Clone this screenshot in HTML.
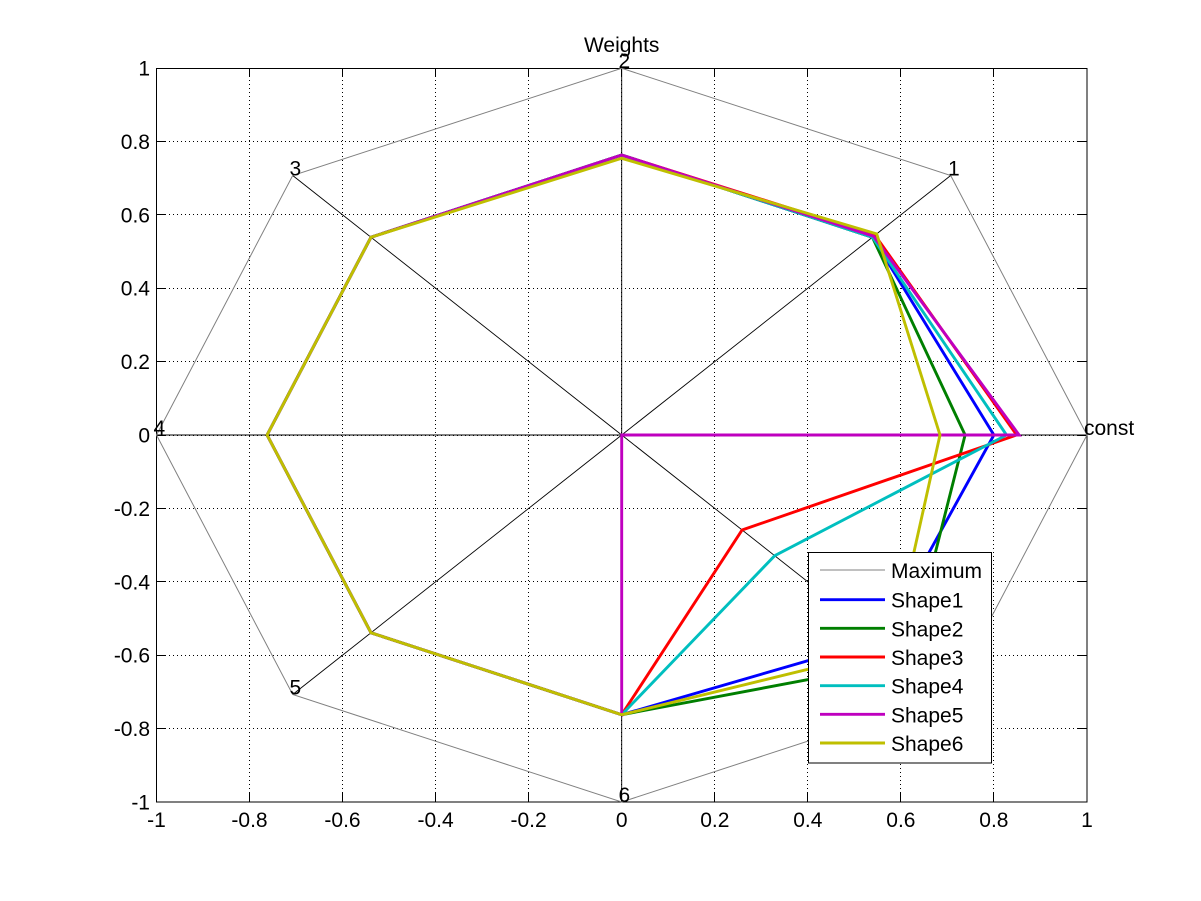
<!DOCTYPE html>
<html><head><meta charset="utf-8"><style>
html,body{margin:0;padding:0;background:#fff;}
svg{display:block;}
text{font-family:"Liberation Sans",Arial,sans-serif;font-size:21px;fill:#000;}
</style></head><body>
<svg width="1201" height="901" viewBox="0 0 1201 901" xmlns="http://www.w3.org/2000/svg">
<rect x="0" y="0" width="1201" height="901" fill="#fff"/>
<!-- grid -->
<g stroke="#000" stroke-width="1" stroke-dasharray="1,3" shape-rendering="crispEdges">
<line x1="249.5" y1="68" x2="249.5" y2="802"/>
<line x1="342.5" y1="68" x2="342.5" y2="802"/>
<line x1="435.5" y1="68" x2="435.5" y2="802"/>
<line x1="528.5" y1="68" x2="528.5" y2="802"/>
<line x1="621.5" y1="68" x2="621.5" y2="802"/>
<line x1="714.5" y1="68" x2="714.5" y2="802"/>
<line x1="807.5" y1="68" x2="807.5" y2="802"/>
<line x1="900.5" y1="68" x2="900.5" y2="802"/>
<line x1="993.5" y1="68" x2="993.5" y2="802"/>
<line x1="157" y1="141.5" x2="1087" y2="141.5"/>
<line x1="157" y1="214.5" x2="1087" y2="214.5"/>
<line x1="157" y1="288.5" x2="1087" y2="288.5"/>
<line x1="157" y1="361.5" x2="1087" y2="361.5"/>
<line x1="157" y1="435.5" x2="1087" y2="435.5"/>
<line x1="157" y1="508.5" x2="1087" y2="508.5"/>
<line x1="157" y1="581.5" x2="1087" y2="581.5"/>
<line x1="157" y1="655.5" x2="1087" y2="655.5"/>
<line x1="157" y1="728.5" x2="1087" y2="728.5"/>
</g>
<!-- axes box and ticks -->
<g stroke="#000" stroke-width="1" fill="none" shape-rendering="crispEdges">
<rect x="156.5" y="68.5" width="930.5" height="733.5"/>
<path d="M249.5 802v-9M342.5 802v-9M435.5 802v-9M528.5 802v-9M621.5 802v-9M714.5 802v-9M807.5 802v-9M900.5 802v-9M993.5 802v-9
M249.5 68v9M342.5 68v9M435.5 68v9M528.5 68v9M621.5 68v9M714.5 68v9M807.5 68v9M900.5 68v9M993.5 68v9
M157 141.5h9M157 214.5h9M157 288.5h9M157 361.5h9M157 435.5h9M157 508.5h9M157 581.5h9M157 655.5h9M157 728.5h9
M1087 141.5h-9M1087 214.5h-9M1087 288.5h-9M1087 361.5h-9M1087 435.5h-9M1087 508.5h-9M1087 581.5h-9M1087 655.5h-9M1087 728.5h-9"/>
</g>
<!-- tick labels -->
<g text-anchor="middle">
<text x="156.5" y="827">-1</text>
<text x="249.5" y="827">-0.8</text>
<text x="342.5" y="827">-0.6</text>
<text x="435.6" y="827">-0.4</text>
<text x="528.6" y="827">-0.2</text>
<text x="621.7" y="827">0</text>
<text x="714.8" y="827">0.2</text>
<text x="807.8" y="827">0.4</text>
<text x="900.9" y="827">0.6</text>
<text x="993.9" y="827">0.8</text>
<text x="1087" y="827">1</text>
</g>
<g text-anchor="end">
<text x="150" y="75.5">1</text>
<text x="150" y="149">0.8</text>
<text x="150" y="222.3">0.6</text>
<text x="150" y="295.7">0.4</text>
<text x="150" y="369.1">0.2</text>
<text x="150" y="442.5">0</text>
<text x="150" y="515.9">-0.2</text>
<text x="150" y="589.3">-0.4</text>
<text x="150" y="662.7">-0.6</text>
<text x="150" y="736.1">-0.8</text>
<text x="150" y="809.5">-1</text>
</g>
<text x="621.7" y="52" text-anchor="middle">Weights</text>
<!-- spokes -->
<g stroke="#000" stroke-width="0.9" fill="none">
<line x1="621.7" y1="435" x2="1087" y2="435"/>
<line x1="621.7" y1="435" x2="950.7" y2="175.5"/>
<line x1="621.7" y1="435" x2="621.7" y2="68.3"/>
<line x1="621.7" y1="435" x2="292.7" y2="175.5"/>
<line x1="621.7" y1="435" x2="156.5" y2="435"/>
<line x1="621.7" y1="435" x2="292.7" y2="694.5"/>
<line x1="621.7" y1="435" x2="621.7" y2="802"/>
<line x1="621.7" y1="435" x2="950.7" y2="694.5"/>
</g>
<!-- maximum -->
<polygon points="1087,435 950.7,175.5 621.7,68.3 292.7,175.5 156.5,435 292.7,694.5 621.7,802 950.7,694.5" fill="none" stroke="#808080" stroke-width="1"/>
<!-- shapes -->
<g fill="none" stroke-width="2.9" stroke-linejoin="miter">
<polygon stroke="#0000ff" points="993.9,435 872.4,237.2 621.7,155 371,237.2 267.1,435 371,632.8 621.7,714.7 881,639.5"/>
<polygon stroke="#007f00" points="965.1,435 872.4,237.2 621.7,155 371,237.2 267.1,435 371,632.8 621.7,714.7 908,660.8"/>
<polygon stroke="#ff0000" points="1016.7,435 875,235.2 621.7,155 371,237.2 267.1,435 371,632.8 621.7,714.7 742.1,530"/>
<polygon stroke="#00bfbf" points="1006.5,435 872.4,237.2 621.7,155 371,237.2 267.1,435 371,632.8 621.7,714.7 774.7,555.7"/>
<polygon stroke="#bf00bf" points="1019.1,435 873.5,236.2 621.7,155 371,237.2 267.1,435 371,632.8 621.7,714.7 621.7,435"/>
<polygon stroke="#bfbf00" points="940,435 876.7,233.9 621.7,158.3 371,237.2 267.1,435 371,632.8 621.7,714.7 892.5,648.6"/>
</g>
<!-- vertex labels -->
<text x="1084" y="435">const</text>
<text x="948" y="175.5">1</text>
<text x="618.5" y="68">2</text>
<text x="289.5" y="175.5">3</text>
<text x="153.5" y="435">4</text>
<text x="289.5" y="694.5">5</text>
<text x="618.5" y="802">6</text>
<!-- legend -->
<rect x="808.5" y="552.5" width="183" height="210.5" fill="#fff" stroke="#000" stroke-width="1" shape-rendering="crispEdges"/>
<g stroke-width="2.9">
<line x1="820" y1="570" x2="885" y2="570" stroke="#808080" stroke-width="1"/>
<line x1="820" y1="599.7" x2="885" y2="599.7" stroke="#0000ff"/>
<line x1="820" y1="628.3" x2="885" y2="628.3" stroke="#007f00"/>
<line x1="820" y1="657" x2="885" y2="657" stroke="#ff0000"/>
<line x1="820" y1="685.7" x2="885" y2="685.7" stroke="#00bfbf"/>
<line x1="820" y1="714.3" x2="885" y2="714.3" stroke="#bf00bf"/>
<line x1="820" y1="743" x2="885" y2="743" stroke="#bfbf00"/>
</g>
<g>
<text x="891" y="578">Maximum</text>
<text x="891" y="607.7">Shape1</text>
<text x="891" y="636.3">Shape2</text>
<text x="891" y="665">Shape3</text>
<text x="891" y="693.7">Shape4</text>
<text x="891" y="722.3">Shape5</text>
<text x="891" y="751">Shape6</text>
</g>
</svg>
</body></html>
